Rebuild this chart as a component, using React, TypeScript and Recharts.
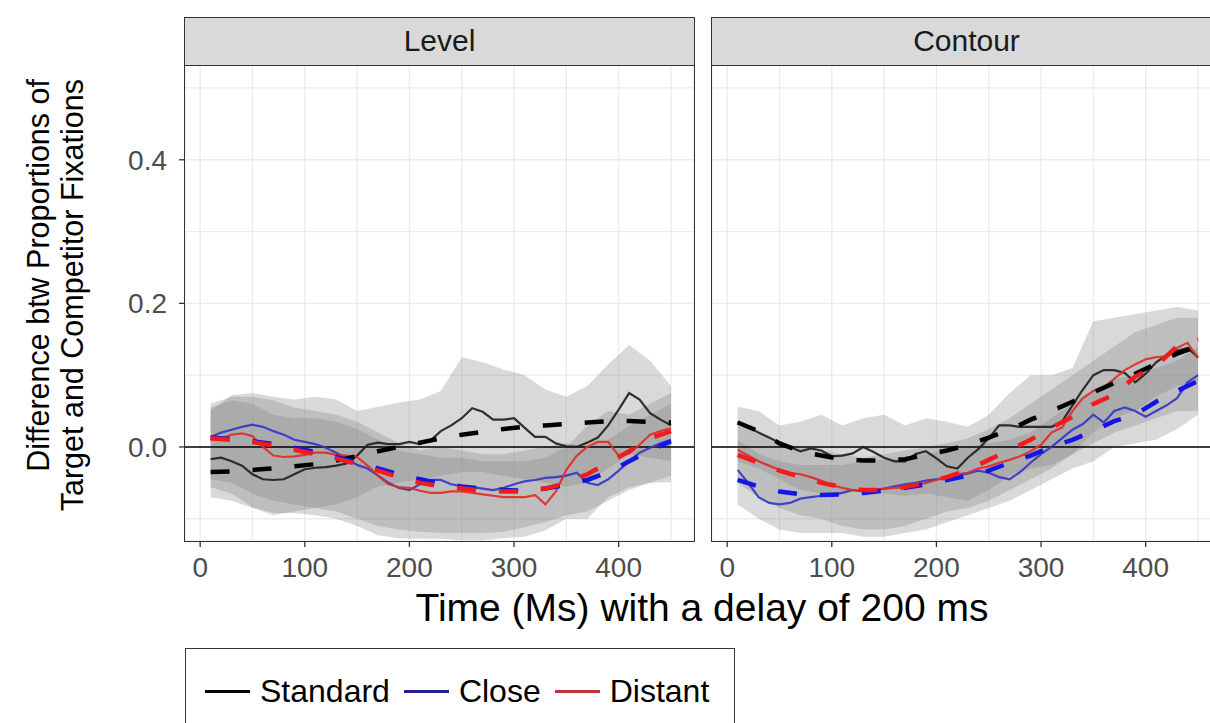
import React from 'react';
import { ComposedChart, Line, Area, XAxis, YAxis, CartesianGrid, ReferenceLine } from 'recharts';

const FONT = '"Liberation Sans", Arial, Helvetica, sans-serif';

// time points (ms after the 200 ms delay)
const timeFine = [10, 20, 30, 40, 50, 60, 70, 80, 90, 100, 110, 120, 130, 140, 150, 160, 170, 180, 190, 200, 210, 220, 230, 240, 250, 260, 270, 280, 290, 300, 310, 320, 330, 340, 350, 360, 370, 380, 390, 400, 410, 420, 430, 440, 450];
const timeCoarse = [10, 30, 50, 70, 90, 110, 130, 150, 170, 190, 210, 230, 250, 270, 290, 310, 330, 350, 370, 390, 410, 430, 450];

const conditions = ['Standard', 'Close', 'Distant'];
const facets = ['Level', 'Contour'];

// observed differences (solid)
const levelStandardObs = [-0.017, -0.015, -0.02, -0.026, -0.038, -0.045, -0.046, -0.045, -0.038, -0.031, -0.029, -0.028, -0.026, -0.023, -0.012, 0.003, 0.006, 0.004, 0.004, 0.007, 0.004, 0.009, 0.022, 0.03, 0.04, 0.054, 0.049, 0.038, 0.038, 0.04, 0.027, 0.014, 0.014, 0.005, 0.001, 0.0, 0.006, 0.013, 0.03, 0.052, 0.075, 0.066, 0.047, 0.038, 0.03];
const levelCloseObs = [0.014, 0.02, 0.024, 0.028, 0.031, 0.028, 0.022, 0.017, 0.01, 0.007, 0.004, -0.001, -0.008, -0.016, -0.025, -0.03, -0.04, -0.05, -0.057, -0.06, -0.052, -0.046, -0.046, -0.052, -0.055, -0.056, -0.058, -0.06, -0.057, -0.052, -0.048, -0.046, -0.043, -0.042, -0.04, -0.036, -0.05, -0.053, -0.045, -0.033, -0.02, -0.008, -0.001, 0.005, 0.01];
const levelDistantObs = [0.01, 0.012, 0.017, 0.019, 0.015, 0.0, -0.012, -0.014, -0.013, -0.011, -0.008, -0.008, -0.011, -0.012, -0.014, -0.026, -0.04, -0.052, -0.056, -0.057, -0.061, -0.064, -0.064, -0.062, -0.062, -0.064, -0.066, -0.068, -0.07, -0.07, -0.07, -0.067, -0.08, -0.062, -0.032, -0.012, 0.0, 0.007, 0.007, -0.012, -0.009, 0.003, 0.017, 0.022, 0.026];

const contourStandardObs = [0.035, 0.028, 0.02, 0.013, 0.006, 0.0, -0.006, -0.002, -0.005, -0.013, -0.012, -0.009, 0.0, -0.007, -0.015, -0.02, -0.02, -0.01, -0.006, -0.016, -0.027, -0.03, -0.015, -0.003, 0.012, 0.03, 0.03, 0.028, 0.028, 0.028, 0.028, 0.035, 0.058, 0.08, 0.1, 0.107, 0.107, 0.103, 0.09, 0.102, 0.118, 0.128, 0.134, 0.138, 0.125];
const contourCloseObs = [-0.032, -0.05, -0.07, -0.078, -0.08, -0.078, -0.072, -0.07, -0.068, -0.067, -0.064, -0.06, -0.062, -0.06, -0.058, -0.055, -0.052, -0.05, -0.047, -0.045, -0.043, -0.04, -0.037, -0.033, -0.036, -0.042, -0.045, -0.035, -0.022, -0.01, 0.0, 0.012, 0.024, 0.032, 0.045, 0.034, 0.05, 0.055, 0.05, 0.042, 0.05, 0.058, 0.068, 0.09, 0.1];
const contourDistantObs = [-0.004, -0.012, -0.02, -0.026, -0.032, -0.036, -0.038, -0.042, -0.047, -0.053, -0.057, -0.06, -0.062, -0.06, -0.058, -0.057, -0.056, -0.054, -0.05, -0.046, -0.042, -0.038, -0.036, -0.03, -0.027, -0.022, -0.018, -0.013, -0.006, 0.003, 0.02, 0.027, 0.05, 0.068, 0.078, 0.083, 0.095, 0.107, 0.115, 0.122, 0.125, 0.126, 0.138, 0.145, 0.124];

// model fits (dashed)
const levelStandardFit = [-0.035, -0.034, -0.032, -0.03, -0.027, -0.024, -0.019, -0.013, -0.006, 0.0, 0.006, 0.012, 0.017, 0.021, 0.025, 0.028, 0.03, 0.032, 0.034, 0.036, 0.036, 0.035, 0.034];
const levelCloseFit = [0.013, 0.011, 0.008, 0.004, -0.001, -0.007, -0.014, -0.022, -0.03, -0.038, -0.045, -0.051, -0.055, -0.058, -0.06, -0.061, -0.058, -0.053, -0.046, -0.035, -0.02, -0.005, 0.008];
const levelDistantFit = [0.012, 0.01, 0.007, 0.002, -0.004, -0.01, -0.016, -0.024, -0.033, -0.042, -0.05, -0.055, -0.058, -0.061, -0.062, -0.062, -0.058, -0.05, -0.038, -0.022, -0.006, 0.012, 0.022];

const contourStandardFit = [0.034, 0.022, 0.005, -0.006, -0.012, -0.017, -0.019, -0.019, -0.017, -0.011, -0.005, 0.003, 0.013, 0.024, 0.038, 0.05, 0.063, 0.076, 0.089, 0.102, 0.116, 0.13, 0.14];
const contourCloseFit = [-0.046, -0.055, -0.062, -0.066, -0.067, -0.066, -0.064, -0.061, -0.057, -0.052, -0.046, -0.04, -0.033, -0.022, -0.012, 0.0, 0.01, 0.022, 0.036, 0.045, 0.063, 0.078, 0.092];
const contourDistantFit = [-0.011, -0.022, -0.033, -0.042, -0.05, -0.056, -0.06, -0.06, -0.056, -0.05, -0.042, -0.032, -0.018, -0.004, 0.01, 0.027, 0.042, 0.06, 0.073, 0.098, 0.113, 0.14, 0.15];

// confidence bands
const levelStandardLow = [-0.07, -0.075, -0.085, -0.095, -0.09, -0.085, -0.08, -0.07, -0.055, -0.05, -0.045, -0.04, -0.035, -0.035, -0.04, -0.045, -0.05, -0.055, -0.05, -0.03, -0.01, -0.015, -0.02];
const levelStandardHigh = [0.05, 0.072, 0.075, 0.07, 0.066, 0.07, 0.066, 0.05, 0.056, 0.062, 0.066, 0.078, 0.125, 0.118, 0.108, 0.1, 0.08, 0.07, 0.085, 0.115, 0.142, 0.12, 0.085];
const levelCloseLow = [-0.045, -0.05, -0.065, -0.075, -0.08, -0.085, -0.09, -0.1, -0.11, -0.115, -0.118, -0.12, -0.12, -0.12, -0.118, -0.112, -0.105, -0.095, -0.09, -0.075, -0.06, -0.05, -0.04];
const levelCloseHigh = [0.06, 0.07, 0.07, 0.065, 0.055, 0.05, 0.045, 0.035, 0.02, 0.005, -0.005, 0.0, -0.005, -0.01, -0.01, -0.005, 0.0, 0.005, 0.0, 0.01, 0.03, 0.045, 0.06];
const levelDistantLow = [-0.056, -0.065, -0.084, -0.092, -0.092, -0.095, -0.1, -0.11, -0.123, -0.127, -0.128, -0.128, -0.13, -0.13, -0.127, -0.125, -0.116, -0.1, -0.1, -0.07, -0.056, -0.05, -0.049];
const levelDistantHigh = [0.055, 0.065, 0.06, 0.045, 0.04, 0.04, 0.035, 0.025, 0.01, -0.005, -0.01, -0.015, -0.015, -0.02, -0.02, -0.02, -0.015, 0.0, 0.03, 0.05, 0.045, 0.06, 0.075];

const contourStandardLow = [-0.02, -0.03, -0.045, -0.06, -0.065, -0.065, -0.06, -0.065, -0.068, -0.065, -0.07, -0.075, -0.06, -0.04, -0.03, -0.025, -0.01, 0.02, 0.04, 0.05, 0.07, 0.085, 0.09];
const contourStandardHigh = [0.056, 0.05, 0.03, 0.035, 0.045, 0.03, 0.04, 0.045, 0.03, 0.04, 0.035, 0.028, 0.045, 0.075, 0.1, 0.1, 0.11, 0.175, 0.18, 0.185, 0.19, 0.195, 0.19];
const contourCloseLow = [-0.08, -0.1, -0.115, -0.12, -0.12, -0.12, -0.125, -0.125, -0.12, -0.115, -0.105, -0.095, -0.085, -0.075, -0.06, -0.045, -0.03, -0.02, 0.0, 0.005, 0.01, 0.025, 0.045];
const contourCloseHigh = [0.01, -0.01, -0.02, -0.025, -0.025, -0.025, -0.02, -0.018, -0.015, -0.01, -0.005, 0.0, 0.005, 0.01, 0.02, 0.04, 0.06, 0.08, 0.095, 0.1, 0.11, 0.12, 0.14];
const contourDistantLow = [-0.05, -0.07, -0.085, -0.095, -0.1, -0.11, -0.115, -0.115, -0.11, -0.1, -0.09, -0.085, -0.075, -0.06, -0.045, -0.03, -0.01, 0.005, 0.02, 0.03, 0.04, 0.05, 0.05];
const contourDistantHigh = [0.03, 0.02, 0.005, 0.0, -0.005, -0.01, -0.015, -0.01, -0.005, 0.0, 0.005, 0.012, 0.025, 0.04, 0.06, 0.08, 0.1, 0.12, 0.14, 0.16, 0.17, 0.18, 0.18];

// axes
const xTicks = [0, 100, 200, 300, 400];
const xGrid = [0, 50, 100, 150, 200, 250, 300, 350, 400, 450];
const yTicks = [0, 0.2, 0.4];
const yGrid = [-0.1, 0, 0.1, 0.2, 0.3, 0.4, 0.5];
const X_DOMAIN: [number, number] = [-14.5, 472];
const Y_DOMAIN: [number, number] = [-0.131, 0.532];

const obsColors = ['#1e1e1e', '#3434c8', '#e02a2a'];
const fitColors = ['#000000', '#1414e6', '#f01c1c'];
const keyColors = ['#000000', '#23238e', '#bd3340'];

const toRows = (xs: number[], ys: number[]) => xs.map((x, i) => ({ x, y: ys[i] }));
const toBand = (xs: number[], lo: number[], hi: number[]) => xs.map((x, i) => ({ x, band: [lo[i], hi[i]] }));

const PLOT_TOP = 65;
const PLOT_H = 476;
const PLOT_W = 509;
const CHART_H = 600;
const STRIP_TOP = 17;

interface FacetProps {
  label: string;
  left: number;
  plotLeft: number;
  width: number;
  showY: boolean;
  obs: number[][];
  fit: number[][];
  low: number[][];
  high: number[][];
}

function Facet({ label, left, plotLeft, width, showY, obs, fit, low, high }: FacetProps) {
  const yAxisW = showY ? 60 : 0;
  const margin = {
    top: PLOT_TOP,
    left: plotLeft - yAxisW,
    right: width - plotLeft - PLOT_W,
    bottom: CHART_H - PLOT_TOP - PLOT_H - 40,
  };
  const tickStyle = { fontSize: 28, fill: '#4d4d4d', fontFamily: FONT };

  return (
    <div style={{ position: 'absolute', left, top: 0, width, height: CHART_H }}>
      <ComposedChart width={width} height={CHART_H} margin={margin}>
        <XAxis xAxisId="grid" hide type="number" dataKey="x" domain={X_DOMAIN} ticks={xGrid} allowDataOverflow />
        <YAxis yAxisId="grid" hide type="number" domain={Y_DOMAIN} ticks={yGrid} allowDataOverflow />
        <CartesianGrid xAxisId="grid" yAxisId="grid" stroke="#ebebeb" strokeWidth={1.3} />
        <XAxis
          type="number"
          dataKey="x"
          domain={X_DOMAIN}
          ticks={xTicks}
          allowDataOverflow
          axisLine={false}
          tickLine={{ stroke: '#333333', strokeWidth: 1.3 }}
          tickSize={6}
          tickMargin={10}
          height={40}
          tick={tickStyle}
        />
        <YAxis
          type="number"
          domain={Y_DOMAIN}
          ticks={yTicks}
          allowDataOverflow
          hide={!showY}
          width={yAxisW}
          axisLine={false}
          tickLine={{ stroke: '#333333', strokeWidth: 1.3 }}
          tickSize={6}
          tickMargin={12}
          tick={tickStyle}
          tickFormatter={(v: number) => v.toFixed(1)}
        />
        {low.map((lo, i) => (
          <Area
            key={`band-${i}`}
            data={toBand(timeCoarse, lo, high[i])}
            dataKey="band"
            type="linear"
            stroke="none"
            fill="#808080"
            fillOpacity={0.3}
            isAnimationActive={false}
          />
        ))}
        <ReferenceLine y={0} stroke="#000000" strokeWidth={1.5} />
        {obs.map((ys, i) => (
          <Line
            key={`obs-${i}`}
            data={toRows(timeFine, ys)}
            dataKey="y"
            type="linear"
            stroke={obsColors[i]}
            strokeWidth={2.2}
            strokeOpacity={0.9}
            dot={false}
            activeDot={false}
            isAnimationActive={false}
          />
        ))}
        {fit.map((ys, i) => (
          <Line
            key={`fit-${i}`}
            data={toRows(timeCoarse, ys)}
            dataKey="y"
            type="linear"
            stroke={fitColors[i]}
            strokeWidth={4.5}
            strokeDasharray="19 23"
            dot={false}
            activeDot={false}
            isAnimationActive={false}
          />
        ))}
      </ComposedChart>
      {/* panel frame */}
      <div
        style={{
          position: 'absolute',
          left: plotLeft - 0.75,
          top: PLOT_TOP - 0.75,
          width: PLOT_W + 1.5,
          height: PLOT_H + 1.5,
          border: '1.5px solid #333333',
          boxSizing: 'border-box',
          pointerEvents: 'none',
        }}
      />
      {/* facet strip */}
      <div
        style={{
          position: 'absolute',
          left: plotLeft - 0.75,
          top: STRIP_TOP,
          width: PLOT_W + 1.5,
          height: PLOT_TOP - STRIP_TOP + 0.75,
          background: '#d9d9d9',
          border: '1.5px solid #333333',
          boxSizing: 'border-box',
          display: 'flex',
          alignItems: 'center',
          justifyContent: 'center',
          fontFamily: FONT,
          fontSize: 30,
          color: '#1a1a1a',
        }}
      >
        {label}
      </div>
    </div>
  );
}

export default function App() {
  return (
    <div style={{ position: 'absolute', left: 0, top: 0, width: 1210, height: 723, overflow: 'hidden', background: '#ffffff' }}>
      <Facet
        label={facets[0]}
        left={0}
        plotLeft={185}
        width={700}
        showY
        obs={[levelStandardObs, levelCloseObs, levelDistantObs]}
        fit={[levelStandardFit, levelCloseFit, levelDistantFit]}
        low={[levelStandardLow, levelCloseLow, levelDistantLow]}
        high={[levelStandardHigh, levelCloseHigh, levelDistantHigh]}
      />
      <Facet
        label={facets[1]}
        left={700}
        plotLeft={12}
        width={540}
        showY={false}
        obs={[contourStandardObs, contourCloseObs, contourDistantObs]}
        fit={[contourStandardFit, contourCloseFit, contourDistantFit]}
        low={[contourStandardLow, contourCloseLow, contourDistantLow]}
        high={[contourStandardHigh, contourCloseHigh, contourDistantHigh]}
      />
      {/* axis titles */}
      <svg width={1210} height={723} style={{ position: 'absolute', left: 0, top: 0, pointerEvents: 'none' }}>
        <text transform="translate(49,79) rotate(-90)" textAnchor="end" fontFamily={FONT} fontSize={30.5} fill="#000">
          Difference btw Proportions of
        </text>
        <text transform="translate(83,79) rotate(-90)" textAnchor="end" fontFamily={FONT} fontSize={30.5} fill="#000">
          Target and Competitor Fixations
        </text>
        <text x={702} y={621} textAnchor="middle" fontFamily={FONT} fontSize={39} fill="#000">
          Time (Ms) with a delay of 200 ms
        </text>
      </svg>
      {/* legend */}
      <div
        style={{
          position: 'absolute',
          left: 185,
          top: 648,
          width: 550,
          height: 110,
          border: '1.5px solid #333333',
          boxSizing: 'border-box',
          fontFamily: FONT,
          fontSize: 32,
          color: '#000',
        }}
      >
        <div style={{ position: 'absolute', left: 19, top: 24, height: 36, display: 'flex', alignItems: 'center', whiteSpace: 'nowrap' }}>
          {conditions.map((c, i) => (
            <div key={c} style={{ display: 'flex', alignItems: 'center', marginRight: 14 }}>
              <div style={{ width: 45, height: 3, background: keyColors[i], marginRight: 10 }} />
              <span>{c}</span>
            </div>
          ))}
        </div>
      </div>
    </div>
  );
}
